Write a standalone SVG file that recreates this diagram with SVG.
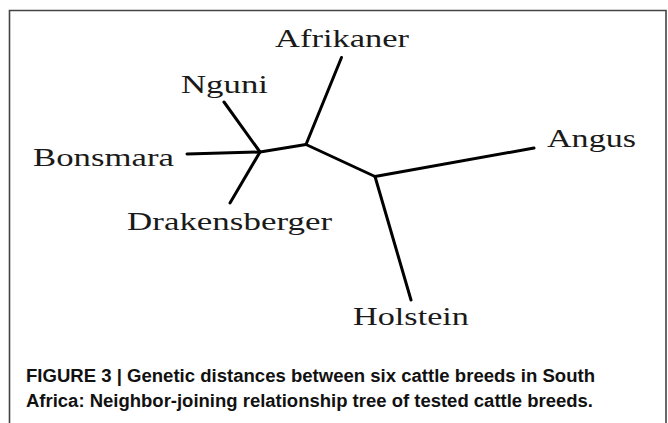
<svg xmlns="http://www.w3.org/2000/svg" width="668" height="423" viewBox="0 0 668 423">
<style>
.lbl{font-family:"Liberation Serif","Times New Roman",serif;font-size:25px;fill:#1a1a1a}
.edge{stroke:#000;stroke-width:3;stroke-linecap:round;fill:none}
.cap{font-family:"Liberation Sans Narrow","Liberation Sans",Arial,sans-serif;font-size:17.5px;font-weight:bold;fill:#111}
</style>
<rect x="0" y="0" width="668" height="423" fill="#fff"/>
<path d="M9.5,423 V10.5 H666 V423" fill="none" stroke="#444" stroke-width="1.6"/>
<g id="connectors">
<line class="edge" x1="187" y1="154" x2="260" y2="152"/>
<line class="edge" x1="224" y1="102" x2="260" y2="152"/>
<line class="edge" x1="230" y1="203" x2="260" y2="152"/>
<line class="edge" x1="260" y1="152" x2="306" y2="144.5"/>
<line class="edge" x1="341.5" y1="57.5" x2="306" y2="144.5"/>
<line class="edge" x1="306" y1="144.5" x2="375" y2="176.5"/>
<line class="edge" x1="375" y1="176.5" x2="534" y2="148"/>
<line class="edge" x1="375" y1="176.5" x2="411" y2="300"/>
</g>
<g id="afrikaner"><text class="lbl" transform="translate(275,47) scale(1.35,1)" textLength="99.3" lengthAdjust="spacingAndGlyphs">Afrikaner</text></g>
<g id="nguni"><text class="lbl" transform="translate(181,93) scale(1.35,1)" textLength="64.4" lengthAdjust="spacingAndGlyphs">Nguni</text></g>
<g id="bonsmara"><text class="lbl" transform="translate(33,166) scale(1.35,1)" textLength="104.4" lengthAdjust="spacingAndGlyphs">Bonsmara</text></g>
<g id="drakensberger"><text class="lbl" transform="translate(127,230) scale(1.35,1)" textLength="151.9" lengthAdjust="spacingAndGlyphs">Drakensberger</text></g>
<g id="angus"><text class="lbl" transform="translate(547,147) scale(1.35,1)" textLength="65.9" lengthAdjust="spacingAndGlyphs">Angus</text></g>
<g id="holstein"><text class="lbl" transform="translate(353,325) scale(1.35,1)" textLength="85.9" lengthAdjust="spacingAndGlyphs">Holstein</text></g>
<g id="caption">
<text class="cap" x="26" y="382" textLength="569" lengthAdjust="spacingAndGlyphs">FIGURE 3 | Genetic distances between six cattle breeds in South</text>
<text class="cap" x="26" y="407" textLength="567" lengthAdjust="spacingAndGlyphs">Africa: Neighbor-joining relationship tree of tested cattle breeds.</text>
</g>
</svg>
